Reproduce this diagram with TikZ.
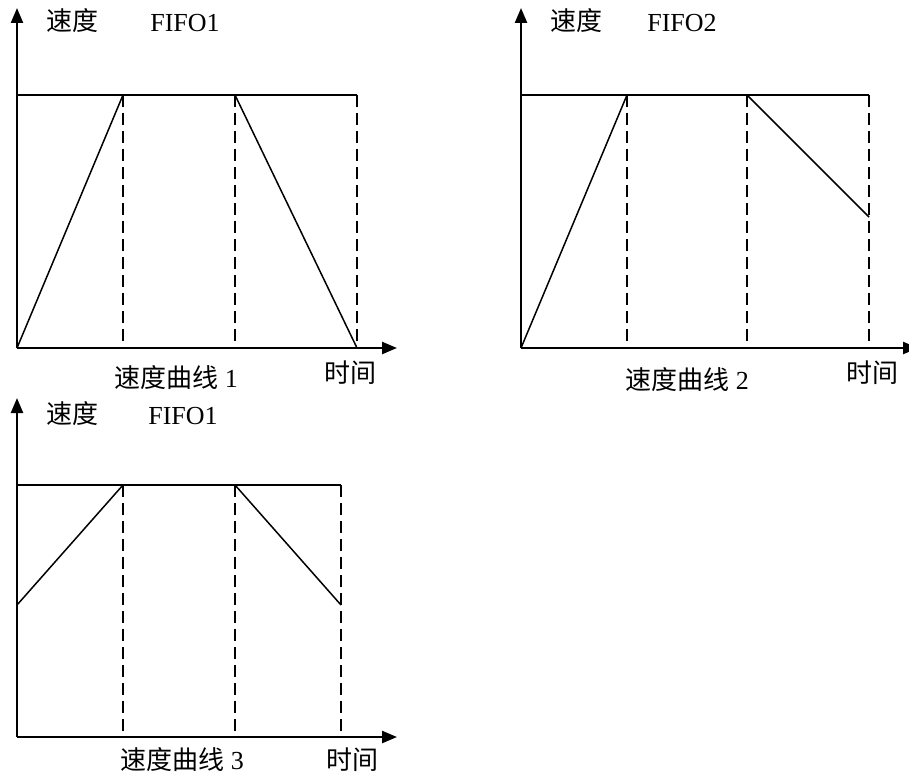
\documentclass[tikz,border=0pt]{standalone}
\usepackage{fontspec}
\setmainfont{Liberation Serif}
\newfontfamily\cjk{Noto Sans CJK SC}
\usetikzlibrary{arrows.meta}
\tikzset{
  axis/.style={line width=2.4pt,-{Triangle[length=15pt,width=12pt]}},
  curve/.style={line width=1.5pt},
  guide/.style={line width=1.5pt,dash pattern=on 12pt off 6pt},
  lbl/.style={inner sep=0pt,font=\fontsize{26pt}{30pt}\selectfont},
  x=1pt,y=-1pt
}
\begin{document}
\begin{tikzpicture}
\useasboundingbox (0,0) rectangle (909,778);
% ---------- chart 1 ----------
\coordinate (o1) at (17,348);
\coordinate (y1) at (17,8);
\coordinate (x1) at (397,348);
\coordinate (t1a) at (17,95);
\coordinate (t1b) at (123,95);
\coordinate (t1c) at (235,95);
\coordinate (t1d) at (357,95);
\coordinate (b1b) at (123,348);
\coordinate (b1c) at (235,348);
\coordinate (b1d) at (357,348);
\draw[guide] (t1b) -- (b1b);
\draw[guide] (t1c) -- (b1c);
\draw[guide] (t1d) -- (b1d);
\draw[curve] (t1a) -- (t1d);
\draw[curve] (o1) -- (t1b);
\draw[curve] (t1c) -- (b1d);
\draw[axis] (o1) -- (y1);
\draw[axis] (o1) -- (x1);
\node[lbl] (v1) at (72,21) {\cjk 速度};
\node[lbl] (f1) at (185,23) {FIFO1};
\node[lbl] (c1) at (176,378) {{\cjk 速度曲线} 1};
\node[lbl] (s1) at (350,373) {\cjk 时间};
% ---------- chart 2 ----------
\coordinate (o2) at (521,348);
\coordinate (y2) at (521,8);
\coordinate (x2) at (918,348);
\coordinate (t2a) at (521,95);
\coordinate (t2b) at (627,95);
\coordinate (t2c) at (747,95);
\coordinate (t2d) at (869,95);
\coordinate (m2) at (869,217);
\coordinate (b2b) at (627,348);
\coordinate (b2c) at (747,348);
\coordinate (b2d) at (869,348);
\draw[guide] (t2b) -- (b2b);
\draw[guide] (t2c) -- (b2c);
\draw[guide] (t2d) -- (b2d);
\draw[curve] (t2a) -- (t2d);
\draw[curve] (o2) -- (t2b);
\draw[curve] (t2c) -- (m2);
\draw[axis] (o2) -- (y2);
\draw[axis] (o2) -- (x2);
\node[lbl] (v2) at (576,21) {\cjk 速度};
\node[lbl] (f2) at (682,23) {FIFO2};
\node[lbl] (c2) at (687,380) {{\cjk 速度曲线} 2};
\node[lbl] (s2) at (872,373) {\cjk 时间};
% ---------- chart 3 ----------
\coordinate (o3) at (17,737);
\coordinate (y3) at (17,398);
\coordinate (x3) at (397,737);
\coordinate (t3a) at (17,485);
\coordinate (t3b) at (123,485);
\coordinate (t3c) at (235,485);
\coordinate (t3d) at (341,485);
\coordinate (l3) at (17,605);
\coordinate (r3) at (341,605);
\coordinate (b3b) at (123,737);
\coordinate (b3c) at (235,737);
\coordinate (b3d) at (341,737);
\draw[guide] (t3b) -- (b3b);
\draw[guide] (t3c) -- (b3c);
\draw[guide] (t3d) -- (b3d);
\draw[curve] (t3a) -- (t3d);
\draw[curve] (l3) -- (t3b);
\draw[curve] (t3c) -- (r3);
\draw[axis] (o3) -- (y3);
\draw[axis] (o3) -- (x3);
\node[lbl] (v3) at (72,414) {\cjk 速度};
\node[lbl] (f3) at (183,416) {FIFO1};
\node[lbl] (c3) at (182,760) {{\cjk 速度曲线} 3};
\node[lbl] (s3) at (352,760) {\cjk 时间};
\end{tikzpicture}
\end{document}
